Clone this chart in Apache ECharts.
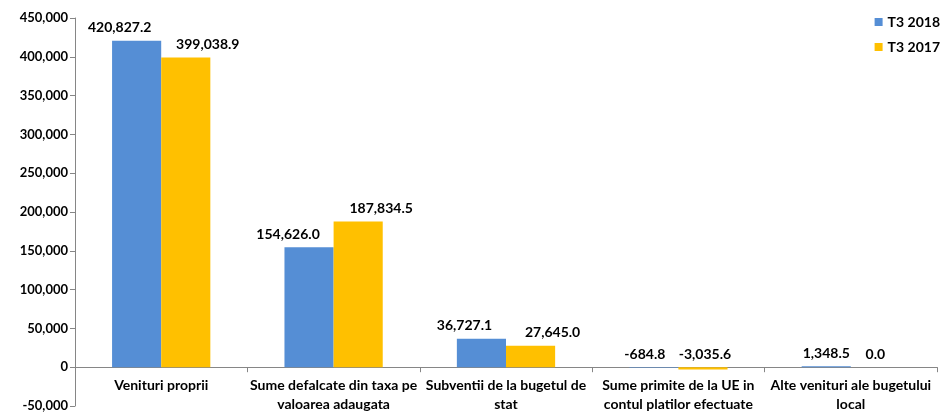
<!DOCTYPE html>
<html>
<head>
<meta charset="utf-8">
<script src="https://cdn.jsdelivr.net/npm/echarts@6/dist/echarts.min.js"></script>
<style>
  html, body { margin: 0; padding: 0; background: #fff; }
  #chart { width: 942px; height: 413px; }
</style>
</head>
<body>
<div id="chart"></div>
<script>
var categories = [
  "Venituri proprii",
  "Sume defalcate din taxa pe\nvaloarea adaugata",
  "Subventii de la bugetul de\nstat",
  "Sume primite de la UE in\ncontul platilor efectuate",
  "Alte venituri ale bugetului\nlocal"
];
var seriesNames = ["T3 2018", "T3 2017"];
var t3_2018 = [420827.2, 154626.0, 36727.1, -684.8, 1348.5];
var t3_2017 = [399038.9, 187834.5, 27645.0, -3035.6, 0.0];

// label nudges, like Excel spreads them apart
var shift2018 = [-17, -21, -17, -9, 0];
var shift2017 = [22, 23, 22, 2, 0];

var font = "Lato, 'Open Sans', sans-serif";

function fmt(v) {
  var s = Math.abs(v).toFixed(1).split(".");
  s[0] = s[0].replace(/\B(?=(\d{3})+(?!\d))/g, ",");
  return (v < 0 ? "-" : "") + s.join(".");
}

function build(values, shifts) {
  return values.map(function (v, i) {
    return { value: v, label: { offset: [shifts[i], 0] } };
  });
}

var chart = echarts.init(document.getElementById("chart"));
var labelStyle = {
  show: true,
  position: "top",
  distance: 6,
  fontFamily: font,
  fontWeight: "bold",
  fontSize: 14,
  color: "#000",
  formatter: function (p) { return fmt(p.value); }
};

chart.setOption({
  animation: false,
  legend: {
    orient: "vertical",
    right: -3,
    top: 10,
    itemWidth: 8,
    itemHeight: 8,
    itemGap: 11,
    icon: "rect",
    textStyle: { fontFamily: font, fontWeight: "bold", fontSize: 14, color: "#000" },
    data: seriesNames
  },
  grid: { left: 75, right: 5, top: 18, bottom: 7, outerBoundsMode: "none", containLabel: false },
  xAxis: {
    type: "category",
    data: categories,
    axisLine: { lineStyle: { color: "#868686" } },
    axisTick: { show: true, length: 5, lineStyle: { color: "#868686" } },
    axisLabel: {
      show: true,
      // labels sit below the zero line, not the grid bottom
      margin: -30,
      interval: 0,
      hideOverlap: false,
      fontFamily: font,
      fontWeight: "bold",
      fontSize: 14,
      lineHeight: 19,
      color: "#000"
    }
  },
  yAxis: {
    type: "value",
    min: -50000,
    max: 450000,
    interval: 50000,
    splitLine: { show: false },
    axisLine: { show: true, lineStyle: { color: "#868686" } },
    axisTick: { show: true, length: 5, lineStyle: { color: "#868686" } },
    axisLabel: {
      margin: 7,
      fontFamily: font,
      fontWeight: "bold",
      fontSize: 13,
      color: "#000",
      formatter: function (v) { return v.toLocaleString("en-US"); }
    }
  },
  series: [
    {
      name: seriesNames[0],
      type: "bar",
      data: build(t3_2018, shift2018),
      barGap: "0%",
      barCategoryGap: "43%",
      itemStyle: { color: "#558ED5" },
      label: labelStyle
    },
    {
      name: seriesNames[1],
      type: "bar",
      data: build(t3_2017, shift2017),
      itemStyle: { color: "#FFC000" },
      label: labelStyle
    }
  ]
});
</script>
</body>
</html>
